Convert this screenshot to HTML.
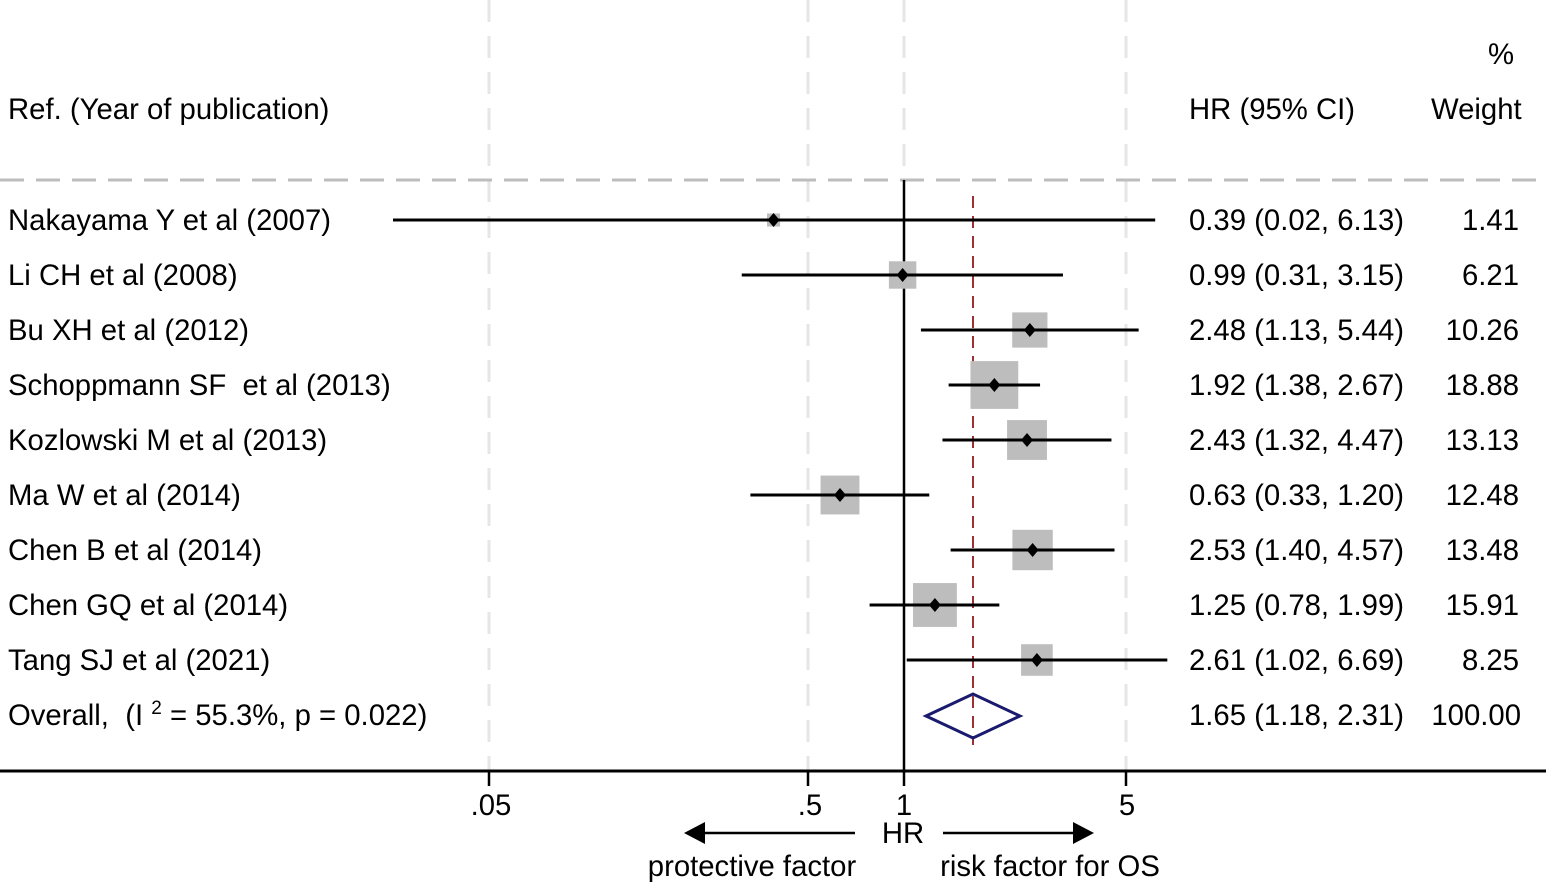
<!DOCTYPE html>
<html><head><meta charset="utf-8"><style>
html,body{margin:0;padding:0;background:#fff;}
svg{display:block;}
text{font-family:"Liberation Sans",Arial,sans-serif;font-size:29.3px;fill:#000;}
</style></head><body>
<svg width="1546" height="882" viewBox="0 0 1546 882" xmlns="http://www.w3.org/2000/svg">
<g stroke="#e6e6e6" stroke-width="3" stroke-dasharray="22,14">
<line x1="489" y1="0" x2="489" y2="770"/>
<line x1="808" y1="0" x2="808" y2="770"/>
<line x1="904" y1="0" x2="904" y2="180"/>
<line x1="1126" y1="0" x2="1126" y2="770"/>
</g>
<line x1="0" y1="180" x2="1546" y2="180" stroke="#bdbdbd" stroke-width="3" stroke-dasharray="24,12"/>
<line x1="904" y1="180" x2="904" y2="771" stroke="#000" stroke-width="2.5"/>
<line x1="973" y1="196" x2="973" y2="745" stroke="#a03030" stroke-width="2" stroke-dasharray="12,8"/>
<text x="8" y="119">Ref. (Year of publication)</text>
<text x="1189" y="119">HR (95% CI)</text>
<text x="1431" y="119">Weight</text>
<text x="1488" y="64">%</text>
<g id="rows"></g>
<polygon points="926,716 973,694 1020,716 973,738" fill="none" stroke="#1a1a6e" stroke-width="3"/>
<line x1="0" y1="771" x2="1546" y2="771" stroke="#000" stroke-width="3"/>
<g stroke="#000" stroke-width="2.5">
<line x1="489" y1="771" x2="489" y2="786"/><line x1="808" y1="771" x2="808" y2="786"/>
<line x1="904" y1="771" x2="904" y2="786"/><line x1="1126" y1="771" x2="1126" y2="786"/>
<line x1="700" y1="833" x2="855" y2="833"/><line x1="943" y1="833" x2="1075" y2="833"/>
</g>
<polygon points="684,833 705,822 705,844" fill="#000"/>
<polygon points="1094,833 1073,822 1073,844" fill="#000"/>
<g text-anchor="middle">
<text x="491" y="815">.05</text><text x="810" y="815">.5</text><text x="904" y="815">1</text><text x="1127" y="815">5</text>
<text x="903" y="843">HR</text>
<text x="752" y="876">protective factor</text><text x="1050" y="876">risk factor for OS</text>
</g>
</svg>
<script>
var rows=[["Nakayama Y et al (2007)",0.39,0.02,6.13,"0.39 (0.02, 6.13)","1.41"],
["Li CH et al (2008)",0.99,0.31,3.15,"0.99 (0.31, 3.15)","6.21"],
["Bu XH et al (2012)",2.48,1.13,5.44,"2.48 (1.13, 5.44)","10.26"],
["Schoppmann SF  et al (2013)",1.92,1.38,2.67,"1.92 (1.38, 2.67)","18.88"],
["Kozlowski M et al (2013)",2.43,1.32,4.47,"2.43 (1.32, 4.47)","13.13"],
["Ma W et al (2014)",0.63,0.33,1.20,"0.63 (0.33, 1.20)","12.48"],
["Chen B et al (2014)",2.53,1.40,4.57,"2.53 (1.40, 4.57)","13.48"],
["Chen GQ et al (2014)",1.25,0.78,1.99,"1.25 (0.78, 1.99)","15.91"],
["Tang SJ et al (2021)",2.61,1.02,6.69,"2.61 (1.02, 6.69)","8.25"]];
function X(v){return 904+319*Math.log10(v);}
var s="";
rows.forEach(function(r,i){var y=220+55*i;var w=11*Math.sqrt(parseFloat(r[5]));var cx=X(r[1]);
var lo=i==0?393:X(r[2]);
s+='<rect x="'+(cx-w/2)+'" y="'+(y-w/2)+'" width="'+w+'" height="'+w+'" fill="#bdbdbd"/>';
s+='<line x1="'+lo+'" y1="'+y+'" x2="'+X(r[3])+'" y2="'+y+'" stroke="#000" stroke-width="3"/>';
s+='<polygon points="'+(cx-6)+','+y+' '+cx+','+(y-7)+' '+(cx+6)+','+y+' '+cx+','+(y+7)+'" fill="#000"/>';
s+='<text x="8" y="'+(y+10)+'" xml:space="preserve">'+r[0]+'</text>';
s+='<text x="1189" y="'+(y+10)+'">'+r[4]+'</text>';
s+='<text x="1519" y="'+(y+10)+'" text-anchor="end">'+r[5]+'</text>';});
var y=715;
s+='<text x="8" y="'+(y+10)+'" xml:space="preserve">Overall,  (I <tspan dy="-11" font-size="19">2</tspan><tspan dy="11"> = 55.3%, p = 0.022)</tspan></text>';
s+='<text x="1189" y="'+(y+10)+'">1.65 (1.18, 2.31)</text><text x="1521" y="'+(y+10)+'" text-anchor="end">100.00</text>';
document.getElementById("rows").innerHTML=s;
</script>
</body></html>
